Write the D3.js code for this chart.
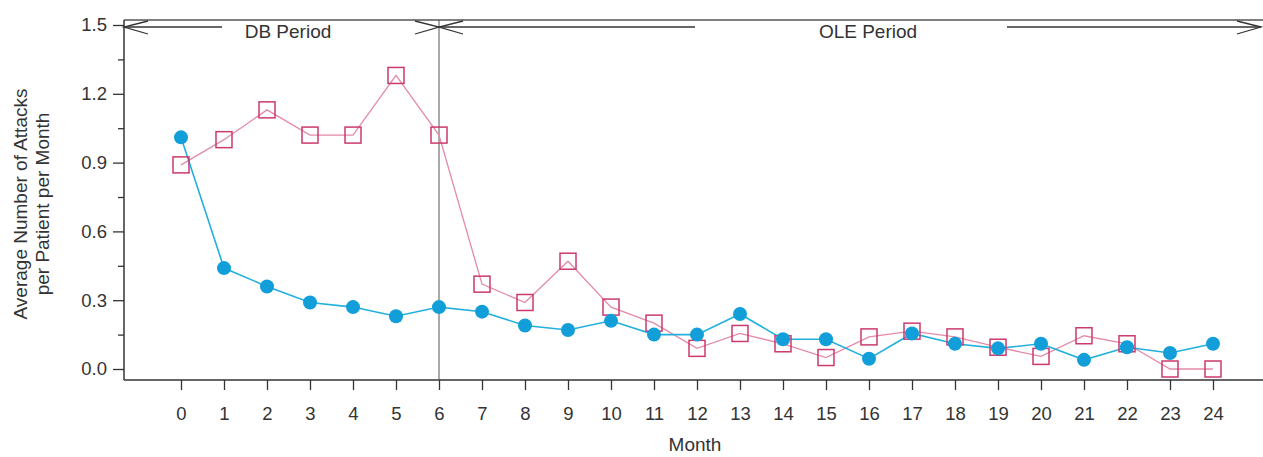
<!DOCTYPE html>
<html><head><meta charset="utf-8">
<script src="https://cdn.jsdelivr.net/npm/d3@7"></script>
<style>body{margin:0;background:#fff}svg{display:block;font-family:"Liberation Sans",Arial,sans-serif}</style>
</head><body><svg id="c" width="1263" height="457"></svg>
<script>
const months = d3.range(0, 25);
const treated = [1.01,0.44,0.36,0.29,0.27,0.23,0.27,0.25,0.19,0.17,0.21,0.15,0.15,0.24,0.13,0.13,0.045,0.155,0.11,0.09,0.11,0.04,0.095,0.07,0.11];
const placebo = [0.89,1.0,1.13,1.02,1.02,1.28,1.02,0.37,0.29,0.47,0.27,0.2,0.09,0.155,0.11,0.05,0.14,0.165,0.14,0.095,0.055,0.145,0.11,0.0,0.0];
const yTicks = [0.0,0.3,0.6,0.9,1.2,1.5];
const yMinor = [0.15,0.45,0.75,1.05,1.35];
const periods = [{label:"DB Period", from:0, to:6},{label:"OLE Period", from:6, to:null}];

const svg = d3.select("#c");
const W = 1263, padL = 124, padT = 20, axisY = 380;
const x = d3.scaleLinear().domain([0,24]).range([181,1213]);
const y = d3.scaleLinear().domain([0,1.5]).range([369,25]);
const ink = "#333";

// frame lines
svg.append("line").attr("x1",padL).attr("x2",W).attr("y1",padT).attr("y2",padT).attr("stroke","#555").attr("stroke-width",1.5);
svg.append("line").attr("x1",padL).attr("x2",padL).attr("y1",padT).attr("y2",axisY).attr("stroke",ink).attr("stroke-width",1.5);
svg.append("line").attr("x1",padL).attr("x2",W).attr("y1",axisY).attr("y2",axisY).attr("stroke",ink).attr("stroke-width",1.5);

// y axis
const yAxis = d3.axisLeft(y).tickValues(yTicks).tickFormat(d3.format(".1f")).tickSize(11).tickPadding(6);
const gy = svg.append("g").attr("transform",`translate(${padL},0)`).call(yAxis);
gy.select(".domain").remove();
gy.selectAll("line").attr("stroke",ink).attr("stroke-width",1.3);
gy.selectAll("text").attr("fill",ink).style("font-size","18.5px");
const gym = svg.append("g").attr("transform",`translate(${padL},0)`).call(d3.axisLeft(y).tickValues(yMinor).tickFormat("").tickSize(6));
gym.select(".domain").remove();
gym.selectAll("line").attr("stroke",ink).attr("stroke-width",1.3);

// x axis
const gx = svg.append("g").attr("transform",`translate(0,${axisY})`).call(d3.axisBottom(x).tickValues(months).tickFormat(d3.format("d")).tickSize(10).tickPadding(17));
gx.select(".domain").remove();
gx.selectAll("line").attr("stroke",ink).attr("stroke-width",1.3);
gx.selectAll("text").attr("fill",ink).style("font-size","18.5px");

// axis titles
svg.append("text").attr("x",695).attr("y",451).attr("text-anchor","middle").attr("fill",ink).style("font-size","19px").text("Month");
const yt = svg.append("text").attr("transform","translate(0,204) rotate(-90)").attr("text-anchor","middle").attr("fill",ink).style("font-size","19px");
yt.append("tspan").attr("x",0).attr("y",27).text("Average Number of Attacks");
yt.append("tspan").attr("x",0).attr("y",49).text("per Patient per Month");

// period divider
svg.append("line").attr("x1",x(6)).attr("x2",x(6)).attr("y1",padT).attr("y2",axisY).attr("stroke","#555").attr("stroke-width",1);

// period arrows
const ay = 27;
function arrowHead(tx, dir){
  svg.append("path").attr("d",`M${tx+dir*24},${ay-6}L${tx},${ay}L${tx+dir*24},${ay+7}`).attr("fill","none").attr("stroke","#333").attr("stroke-width",1.3);
}
arrowHead(padL,1); arrowHead(x(6),-1); arrowHead(x(6),1); arrowHead(W-2,-1);
svg.append("line").attr("x1",padL).attr("x2",222).attr("y1",ay).attr("y2",ay).attr("stroke","#333").attr("stroke-width",1.3);
svg.append("line").attr("x1",x(6)).attr("x2",695).attr("y1",ay).attr("y2",ay).attr("stroke","#333").attr("stroke-width",1.3);
svg.append("line").attr("x1",1007).attr("x2",W-2).attr("y1",ay).attr("y2",ay).attr("stroke","#333").attr("stroke-width",1.3);
svg.append("text").attr("x",288).attr("y",38).attr("text-anchor","middle").attr("fill",ink).style("font-size","19px").text(periods[0].label);
svg.append("text").attr("x",868).attr("y",38).attr("text-anchor","middle").attr("fill",ink).style("font-size","19px").text(periods[1].label);

// series
const line = d3.line().x((d,i)=>x(months[i])).y(d=>y(d));
svg.append("path").datum(placebo).attr("d",line).attr("fill","none").attr("stroke","#e48aa8").attr("stroke-width",1.3);
svg.append("path").datum(treated).attr("d",line).attr("fill","none").attr("stroke","#22b0de").attr("stroke-width",1.6);
svg.selectAll(".sq").data(placebo).enter().append("rect").attr("class","sq")
  .attr("x",(d,i)=>x(months[i])-8).attr("y",d=>y(d)-8).attr("width",16).attr("height",16)
  .attr("fill","none").attr("stroke","#cc3a6e").attr("stroke-width",1.5);
svg.selectAll(".dot").data(treated).enter().append("circle").attr("class","dot")
  .attr("cx",(d,i)=>x(months[i])).attr("cy",d=>y(d)).attr("r",7).attr("fill","#129fd9");
</script></body></html>
